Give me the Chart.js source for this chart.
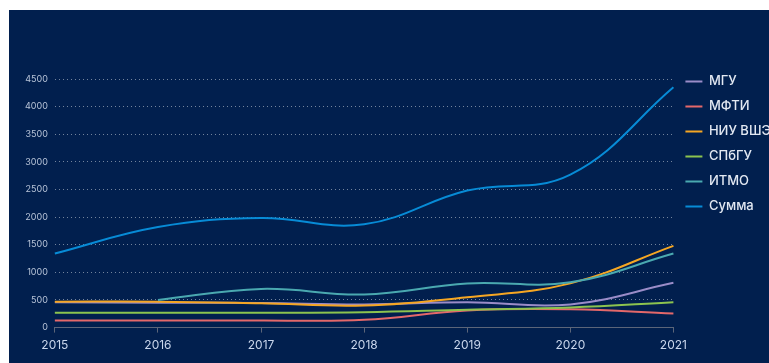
<!DOCTYPE html>
<html>
<head>
<meta charset="utf-8">
<script src="https://cdn.jsdelivr.net/npm/chart.js@4.4.0/dist/chart.umd.min.js"></script>
<style>
  html, body { margin: 0; padding: 0; background: #fff; }
  .graph__container {
    position: absolute; left: 9px; top: 10px;
    width: 760px; height: 353px;
    background: #011f4e; overflow: hidden;
  }
  .graph__canvas { display: block; }
</style>
</head>
<body>
<div class="graph__container">
  <canvas class="graph__canvas" id="chart" width="772" height="353"></canvas>
</div>
<script>
const years = ['2015', '2016', '2017', '2018', '2019', '2020', '2021'];

const msu   = [460, 450, 445, 420, 460, 420, 810];
const mipt  = [130, 130, 130, 140, 310, 330, 255];
const hse   = [470, 470, 440, 400, 550, 800, 1480];
const spbu  = [270, 270, 270, 280, 325, 365, 460];
const itmo  = [null, 500, 700, 600, 800, 820, 1340];
const total = [1340, 1820, 1985, 1870, 2480, 2770, 4350];

const names  = ['МГУ', 'МФТИ', 'НИУ ВШЭ', 'СПбГУ', 'ИТМО', 'Сумма'];
const series = [msu, mipt, hse, spbu, itmo, total];
const colors = ['#9a8cc8', '#e4686a', '#f5a623', '#8cc34f', '#4aa9b0', '#078bd6'];

const datasets = series.map((data, i) => ({
    label: names[i],
    data,
    borderColor: colors[i],
    backgroundColor: colors[i],
    borderWidth: 2,
    pointRadius: 0,
    tension: 0.4,
    order: series.length - i
}));

// legend sits a bit higher than the plot top
const liftLegend = {
    id: 'liftLegend',
    afterLayout(chart) {
        chart.legend.top -= 16;
        chart.legend.bottom -= 16;
    }
};

new Chart(document.getElementById('chart'), {
    type: 'line',
    data: { labels: years, datasets },
    plugins: [liftLegend],
    options: {
        responsive: false,
        animation: false,
        layout: { padding: { left: 9, top: 69, bottom: 4, right: 0 } },
        plugins: {
            tooltip: { enabled: false },
            legend: {
                position: 'right',
                align: 'start',
                labels: {
                    boxWidth: 17,
                    boxHeight: 0,
                    padding: 12,
                    color: '#e2e8f2',
                    font: { family: 'Inter', size: 13, weight: '500' },
                    sort: (a, b) => a.datasetIndex - b.datasetIndex
                }
            }
        },
        scales: {
            x: {
                grid: { drawOnChartArea: false, color: '#5b6579', tickLength: 5 },
                border: { color: '#5b6579' },
                ticks: { color: '#c9d6ec', padding: 6, font: { family: 'Inter', size: 12 } }
            },
            y: {
                min: 0,
                max: 4500,
                grid: { color: 'rgba(255,255,255,0.45)', drawTicks: false },
                border: { display: false, dash: [1, 3] },
                ticks: {
                    stepSize: 500, color: '#b8c4d8', padding: 7,
                    font: { family: 'Inter', size: 9 },
                    callback: v => String(v)
                }
            }
        }
    }
});
</script>
</body>
</html>
